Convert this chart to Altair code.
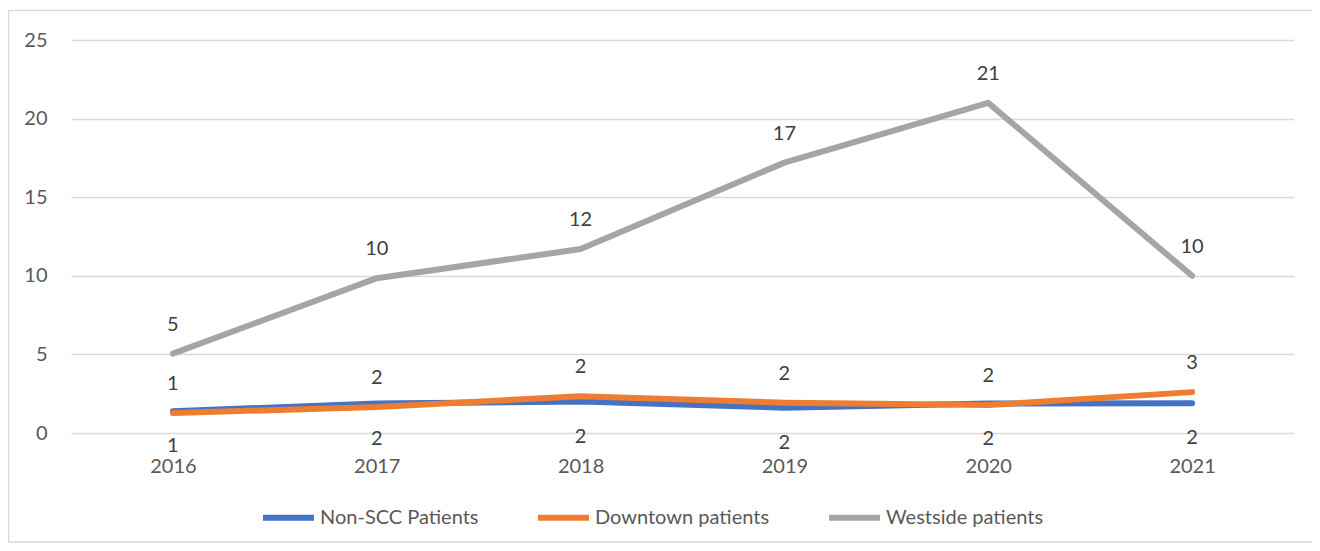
import altair as alt
import pandas as pd

years = ["2016", "2017", "2018", "2019", "2020", "2021"]
series_names = ["Non-SCC Patients", "Downtown patients", "Westside patients"]
non_scc = [1.39, 1.87, 2.0, 1.61, 1.87, 1.89]
downtown = [1.27, 1.65, 2.34, 1.93, 1.78, 2.6]
westside = [5.05, 9.85, 11.7, 17.2, 21.0, 10.0]
colors = ["#4472C4", "#ED7D31", "#A5A5A5"]
y_ticks = [0, 5, 10, 15, 20, 25]

rows = []
for name, vals in zip(series_names, [non_scc, downtown, westside]):
    for yr, v in zip(years, vals):
        rows.append({"year": yr, "series": name, "value": v})
df = pd.DataFrame(rows)

W, H = 1223, 393

x_enc = alt.X(
    "year:O",
    sort=years,
    scale=alt.Scale(type="point", padding=0.5),
    axis=alt.Axis(
        title=None, labelAngle=0, ticks=False, tickSize=0, domain=False, grid=False,
        labelFontSize=20, labelColor="#595959", labelPadding=23,
    ),
)
y_enc = alt.Y(
    "value:Q",
    scale=alt.Scale(domain=[0, 25], nice=False, zero=True),
    axis=alt.Axis(
        title=None, values=y_ticks, ticks=False, tickSize=0, domain=False,
        grid=True, gridColor="#D9D9D9", gridWidth=1.3,
        labelFontSize=20, labelColor="#595959", labelPadding=24,
    ),
)

base = alt.Chart(df)

lines = base.mark_line(strokeWidth=6, strokeCap="round", strokeJoin="round").encode(
    x=x_enc,
    y=y_enc,
    color=alt.Color(
        "series:N",
        scale=alt.Scale(domain=series_names, range=colors),
        sort=series_names,
        legend=alt.Legend(
            title=None, orient="none", direction="horizontal",
            legendX=189, legendY=449,
            symbolType="stroke", symbolSize=2601, symbolStrokeWidth=6,
            labelFontSize=20, labelColor="#595959", labelOffset=3, labelLimit=400,
            columnPadding=47, padding=0,
        ),
    ),
    order=alt.Order("series_order:Q"),
).transform_calculate(
    series_order="indexof(['Non-SCC Patients','Downtown patients','Westside patients'], datum.series)"
)

labels_above = base.transform_filter(
    alt.datum.series != "Non-SCC Patients"
).mark_text(fontSize=20, color="#404040", dy=-29, baseline="middle").encode(
    x=alt.X("year:O", sort=years, scale=alt.Scale(type="point", padding=0.5)),
    y=alt.Y("value:Q"),
    text=alt.Text("value:Q", format=".0f"),
)

labels_below = base.transform_filter(
    alt.datum.series == "Non-SCC Patients"
).mark_text(fontSize=20, color="#404040", dy=35, baseline="middle").encode(
    x=alt.X("year:O", sort=years, scale=alt.Scale(type="point", padding=0.5)),
    y=alt.Y("value:Q"),
    text=alt.Text("value:Q", format=".0f"),
)

frame_df = pd.DataFrame({"k": [0]})
border_left = alt.Chart(frame_df).mark_rule(color="#D9D9D9", strokeWidth=1.5).encode(
    x=alt.value(-62.5), y=alt.value(-29.5), y2=alt.value(H + 109)
)
border_top = alt.Chart(frame_df).mark_rule(color="#D9D9D9", strokeWidth=1.5).encode(
    x=alt.value(-62.5), x2=alt.value(W + 60), y=alt.value(-29.5)
)
border_bottom = alt.Chart(frame_df).mark_rule(color="#D9D9D9", strokeWidth=1.5).encode(
    x=alt.value(-62.5), x2=alt.value(W + 60), y=alt.value(H + 109)
)

chart = alt.layer(border_left, border_top, border_bottom, lines, labels_above, labels_below).properties(
    width=W, height=H,
    autosize=alt.AutoSizeParams(type="none"),
    padding={"left": 63, "top": 32, "right": 18, "bottom": 110},
    background="white",
).configure(font="Lato").configure_view(strokeWidth=0)

chart.save("out.html", embed_options={"renderer": "svg", "actions": False})
